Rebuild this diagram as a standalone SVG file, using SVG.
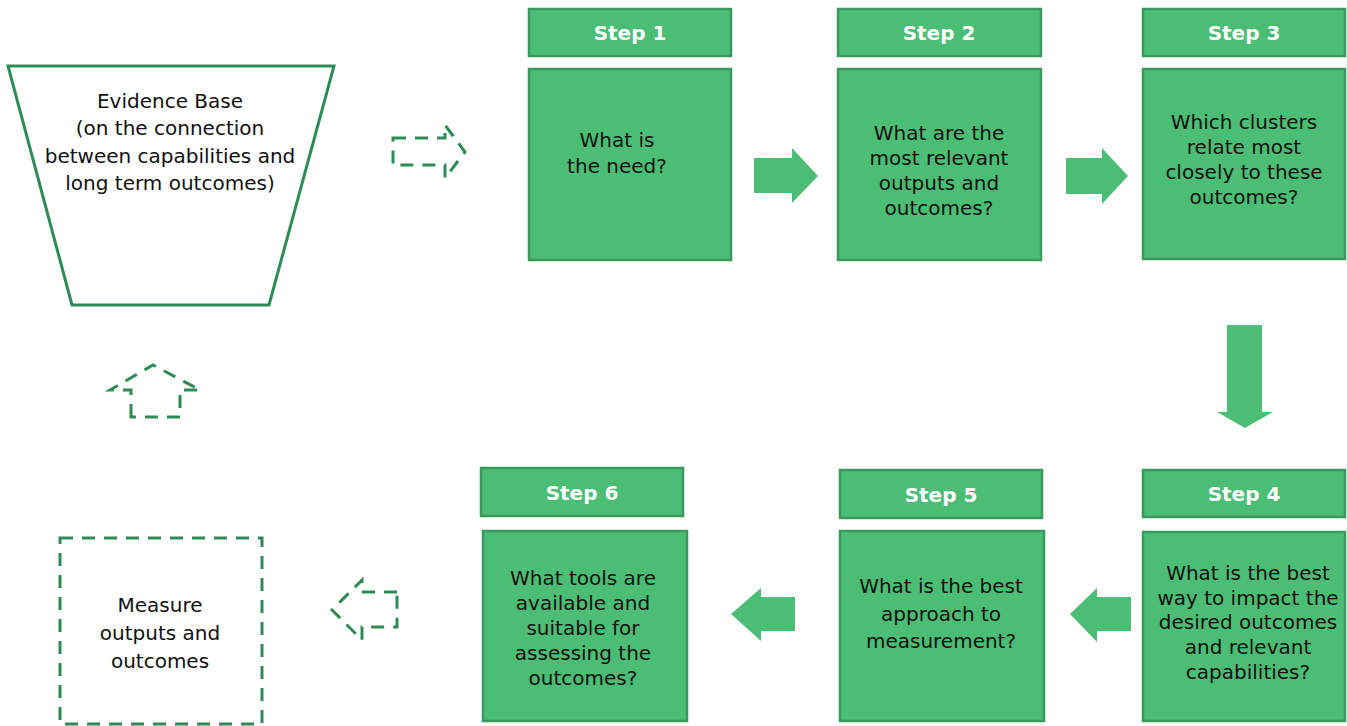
<svg xmlns="http://www.w3.org/2000/svg" width="1347" height="726" viewBox="0 0 1347 726">
<style>
.hdr{fill:#4bbd74;stroke:#3a9a5e;stroke-width:2.5}
.body{fill:#4bbd74;stroke:#3a9a5e;stroke-width:2.5}
.ht{font-family:"DejaVu Sans",Verdana,sans-serif;font-weight:bold;font-size:20px;fill:#fff;text-anchor:middle}
.bt{font-family:"DejaVu Sans",Verdana,sans-serif;font-size:20px;fill:#111;text-anchor:middle}
.arr{fill:#4bbd74}
.dash{fill:none;stroke:#2e8b57;stroke-width:3;stroke-dasharray:13 9}
.outline{fill:#fff;stroke:#2e8b57;stroke-width:3}
</style>
<rect width="1347" height="726" fill="#fff"/>

<g id="evidence">
<polygon class="outline" points="8,66 334,66 269,305 72,305"/>
<text class="bt" x="170" y="108">Evidence Base</text>
<text class="bt" x="170" y="135">(on the connection</text>
<text class="bt" x="170" y="163">between capabilities and</text>
<text class="bt" x="170" y="190">long term outcomes)</text>
</g>

<g id="measure">
<rect class="dash" x="60" y="538" width="202" height="186"/>
<text class="bt" x="160" y="612">Measure</text>
<text class="bt" x="160" y="640">outputs and</text>
<text class="bt" x="160" y="668">outcomes</text>
</g>

<g id="step1">
<rect class="hdr" x="529" y="9" width="202" height="47"/>
<text class="ht" x="630" y="40">Step 1</text>
<rect class="body" x="529" y="69" width="202" height="191"/>
<text class="bt" x="617" y="147">What is</text>
<text class="bt" x="617" y="173">the need?</text>
</g>

<g id="step2">
<rect class="hdr" x="838" y="9" width="203" height="47"/>
<text class="ht" x="939" y="40">Step 2</text>
<rect class="body" x="838" y="69" width="203" height="191"/>
<text class="bt" x="939" y="140">What are the</text>
<text class="bt" x="939" y="165">most relevant</text>
<text class="bt" x="939" y="190">outputs and</text>
<text class="bt" x="939" y="215">outcomes?</text>
</g>

<g id="step3">
<rect class="hdr" x="1143" y="9" width="202" height="47"/>
<text class="ht" x="1244" y="40">Step 3</text>
<rect class="body" x="1143" y="69" width="202" height="190"/>
<text class="bt" x="1244" y="129">Which clusters</text>
<text class="bt" x="1244" y="154">relate most</text>
<text class="bt" x="1244" y="179">closely to these</text>
<text class="bt" x="1244" y="204">outcomes?</text>
</g>

<g id="step4">
<rect class="hdr" x="1143" y="470" width="202" height="47"/>
<text class="ht" x="1244" y="501">Step 4</text>
<rect class="body" x="1143" y="532" width="202" height="189"/>
<text class="bt" x="1248" y="580">What is the best</text>
<text class="bt" x="1248" y="605">way to impact the</text>
<text class="bt" x="1248" y="629">desired outcomes</text>
<text class="bt" x="1248" y="654">and relevant</text>
<text class="bt" x="1248" y="679">capabilities?</text>
</g>

<g id="step5">
<rect class="hdr" x="840" y="470" width="202" height="48"/>
<text class="ht" x="941" y="502">Step 5</text>
<rect class="body" x="840" y="531" width="204" height="190"/>
<text class="bt" x="941" y="593">What is the best</text>
<text class="bt" x="941" y="621">approach to</text>
<text class="bt" x="941" y="648">measurement?</text>
</g>

<g id="step6">
<rect class="hdr" x="481" y="468" width="202" height="48"/>
<text class="ht" x="582" y="500">Step 6</text>
<rect class="body" x="483" y="531" width="204" height="190"/>
<text class="bt" x="583" y="585">What tools are</text>
<text class="bt" x="583" y="610">available and</text>
<text class="bt" x="583" y="635">suitable for</text>
<text class="bt" x="583" y="660">assessing the</text>
<text class="bt" x="583" y="685">outcomes?</text>
</g>

<g id="connectors">
<polygon class="arr" points="754,158 792,158 792,148 818,176 792,203 792,193 754,193"/>
<polygon class="arr" points="1066,158 1102,158 1102,148 1128,176 1102,204 1102,194 1066,194"/>
<polygon class="arr" points="1227,325 1262,325 1262,412 1273,412 1245,428 1217,412 1227,412"/>
<polygon class="arr" points="1131,597 1097,597 1097,588 1070,614 1097,642 1097,631 1131,631"/>
<polygon class="arr" points="795,597 761,597 761,588 731,614 761,641 761,631 795,631"/>
<polygon class="dash" points="393,138 445,138 445,125 465,152 445,178 445,165 393,165"/>
<polygon class="dash" points="131,417 131,390 110,390 153,365 200,390 180,390 180,417"/>
<polygon class="dash" points="397,592 362,592 362,580 332,610 362,640 362,627 397,627"/>
</g>
</svg>
